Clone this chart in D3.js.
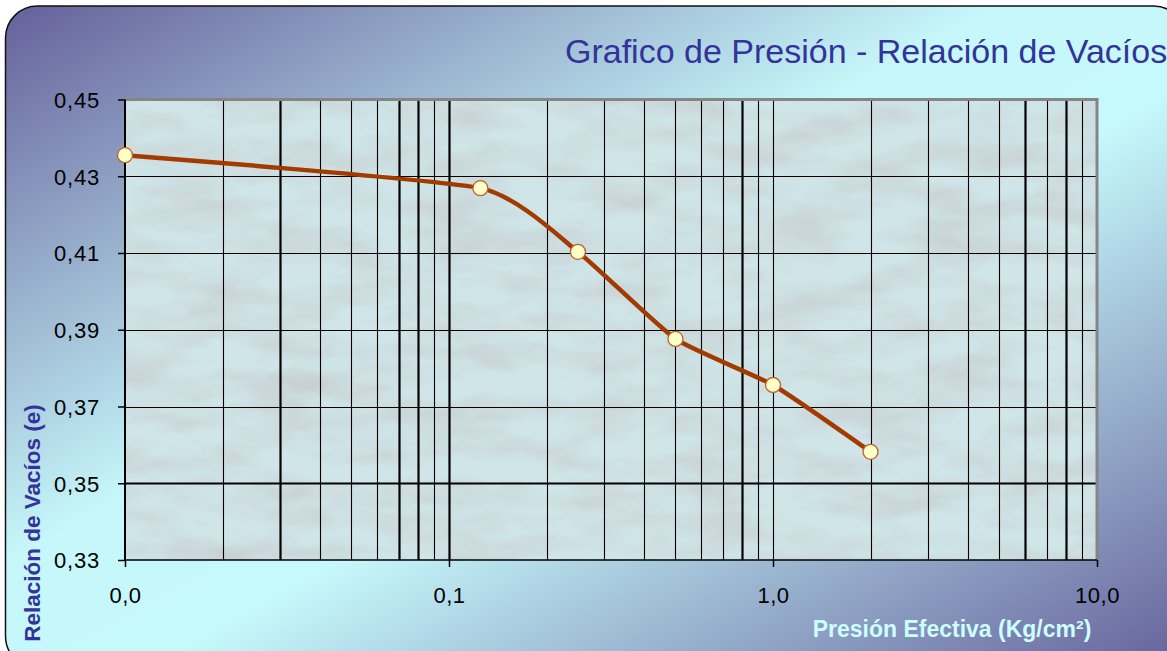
<!DOCTYPE html>
<html>
<head>
<meta charset="utf-8">
<script src="https://cdn.jsdelivr.net/npm/d3@7"></script>
<style>
  html, body { margin: 0; padding: 0; background: #ffffff; }
  svg { display: block; }
  text { font-family: "Liberation Sans", Arial, sans-serif; }
</style>
</head>
<body>
<svg id="chart" width="1167" height="651"></svg>
<script>
// ---- data ----
const pressure = [0.01, 0.125, 0.25, 0.5, 1, 2];          // Kg/cm2
const voidRatio = [0.4355, 0.4269, 0.4103, 0.3876, 0.3756, 0.3582];
const yTickValues = [0.33, 0.35, 0.37, 0.39, 0.41, 0.43, 0.45];
const xTickValues = [0.01, 0.1, 1, 10];
const xTickLabels = ["0,0", "0,1", "1,0", "10,0"];
const titleText = "Grafico de Presión - Relación de Vacíos";
const yTitle = "Relación de Vacíos (e)";
const xTitle = "Presión Efectiva (Kg/cm²)";

// ---- style ----
const boldVertical = [0.03, 0.07, 0.08, 0.1, 0.8, 6, 8];
const boldHorizontal = [0.35];

const plot = { left: 125, right: 1097, top: 99.5, bottom: 560 };

const svg = d3.select("#chart");
const defs = svg.append("defs");

const bg = defs.append("linearGradient").attr("id", "bgGrad")
  .attr("x1", 0).attr("y1", 0).attr("x2", 1).attr("y2", 1);
bg.append("stop").attr("offset", 0).attr("stop-color", "#65609a");
bg.append("stop").attr("offset", 0.42).attr("stop-color", "#c6f7fa");
bg.append("stop").attr("offset", 0.56).attr("stop-color", "#c6f9fb");
bg.append("stop").attr("offset", 1).attr("stop-color", "#65609a");

const f = defs.append("filter").attr("id", "noise")
  .attr("x", 0).attr("y", 0).attr("width", "100%").attr("height", "100%");
f.append("feTurbulence").attr("type", "fractalNoise")
  .attr("baseFrequency", "0.012 0.035").attr("numOctaves", 4).attr("seed", 7);
f.append("feColorMatrix").attr("type", "matrix")
  .attr("values", "0 0 0 0 0.58  0 0 0 0 0.64  0 0 0 0 0.66  2.2 0 0 0 -0.8");
f.append("feComposite").attr("in2", "SourceGraphic").attr("operator", "in");

defs.append("clipPath").attr("id", "plotClip").append("rect")
  .attr("x", plot.left).attr("y", plot.top)
  .attr("width", plot.right - plot.left).attr("height", plot.bottom - plot.top);

// outer rounded frame
svg.append("rect").attr("x", 5.5).attr("y", 6).attr("width", 1180).attr("height", 662)
  .attr("rx", 32).attr("ry", 32)
  .attr("fill", "url(#bgGrad)").attr("stroke", "#111").attr("stroke-width", 1.5);

// scales
const x = d3.scaleLog().domain([0.01, 10]).range([plot.left, plot.right]);
const y = d3.scaleLinear().domain([0.33, 0.45]).range([plot.bottom, plot.top]);

// plot area background
svg.append("rect").attr("x", plot.left).attr("y", plot.top)
  .attr("width", plot.right - plot.left).attr("height", plot.bottom - plot.top)
  .attr("fill", "#cfe5e8");
svg.append("rect").attr("x", plot.left).attr("y", plot.top)
  .attr("width", plot.right - plot.left).attr("height", plot.bottom - plot.top)
  .attr("fill", "#fff").attr("filter", "url(#noise)").attr("opacity", 0.9)
  .attr("clip-path", "url(#plotClip)");

// grid
const grid = svg.append("g");
const vTicks = x.ticks().filter(d => d > 0.0100001 && d < 9.99999);
grid.selectAll("line.v").data(vTicks).join("line")
  .attr("x1", d => Math.round(x(d)) + 0.5).attr("x2", d => Math.round(x(d)) + 0.5)
  .attr("y1", plot.top).attr("y2", plot.bottom)
  .attr("stroke", "#000")
  .attr("stroke-width", d => boldVertical.some(b => Math.abs(b - d) / b < 1e-6) ? 2.2 : 1.1);
const hTicks = yTickValues.filter(d => d > 0.33 && d < 0.45);
grid.selectAll("line.h").data(hTicks).join("line")
  .attr("y1", d => Math.round(y(d)) + 0.5).attr("y2", d => Math.round(y(d)) + 0.5)
  .attr("x1", plot.left).attr("x2", plot.right)
  .attr("stroke", "#000")
  .attr("stroke-width", d => boldHorizontal.some(b => Math.abs(b - d) < 1e-6) ? 2.2 : 1.1);

// plot border top/right gray
svg.append("line").attr("x1", plot.left).attr("x2", plot.right + 1.5)
  .attr("y1", plot.top).attr("y2", plot.top)
  .attr("stroke", "#858585").attr("stroke-width", 3);
svg.append("line").attr("x1", plot.right).attr("x2", plot.right)
  .attr("y1", plot.top).attr("y2", plot.bottom)
  .attr("stroke", "#858585").attr("stroke-width", 3);

// axes
const yAxis = d3.axisLeft(y).tickValues(yTickValues).tickSize(7).tickPadding(18)
  .tickFormat(d => d3.format(".2f")(d).replace(".", ","));
const gy = svg.append("g").attr("transform", `translate(${plot.left},0)`).call(yAxis);
gy.select(".domain").attr("stroke", "#000").attr("stroke-width", 2).attr("d", `M0,${plot.top}V${plot.bottom}`);
gy.selectAll(".tick line").attr("stroke", "#000").attr("stroke-width", 1.5);
gy.selectAll(".tick text").attr("font-size", 22).attr("fill", "#000")
  .attr("font-family", "Liberation Sans, Arial, sans-serif")
  .attr("letter-spacing", "0.8px").attr("dy", "0.36em");

const xAxis = d3.axisBottom(x).tickValues(xTickValues).tickSize(7).tickPadding(20)
  .tickFormat((d, i) => xTickLabels[i]);
const gx = svg.append("g").attr("transform", `translate(0,${plot.bottom})`).call(xAxis);
gx.select(".domain").attr("stroke", "#000").attr("stroke-width", 1.5).attr("d", `M${plot.left},0H${plot.right}`);
gx.selectAll(".tick line").attr("stroke", "#000").attr("stroke-width", 1.5);
gx.selectAll(".tick text").attr("font-size", 22).attr("fill", "#000")
  .attr("font-family", "Liberation Sans, Arial, sans-serif")
  .attr("letter-spacing", "0.5px");

// series
const pts = pressure.map((p, i) => [p, voidRatio[i]]);
const line = d3.line().x(d => x(d[0])).y(d => y(d[1])).curve(d3.curveCardinal.tension(0.5));
svg.append("path").attr("d", line(pts)).attr("fill", "none")
  .attr("stroke", "#a33a00").attr("stroke-width", 4.5).attr("stroke-linejoin", "round");
svg.selectAll("circle.pt").data(pts).join("circle")
  .attr("cx", d => x(d[0])).attr("cy", d => y(d[1])).attr("r", 7.5)
  .attr("fill", "#ffffc8").attr("stroke", "#c0602a").attr("stroke-width", 1.3);

// titles
svg.append("text").attr("x", 565).attr("y", 63).text(titleText)
  .attr("font-size", 34).attr("fill", "#333399")
  .attr("font-family", "Liberation Sans, Arial, sans-serif");

svg.append("text").attr("transform", "translate(40,523) rotate(-90)")
  .attr("text-anchor", "middle").text(yTitle)
  .attr("font-size", 22.5).attr("font-weight", "bold").attr("fill", "#333399")
  .attr("font-family", "Liberation Sans, Arial, sans-serif");

svg.append("text").attr("x", 952).attr("y", 637).attr("text-anchor", "middle").text(xTitle)
  .attr("font-size", 23).attr("font-weight", "bold").attr("fill", "#ccffff")
  .attr("font-family", "Liberation Sans, Arial, sans-serif");
</script>
</body>
</html>
